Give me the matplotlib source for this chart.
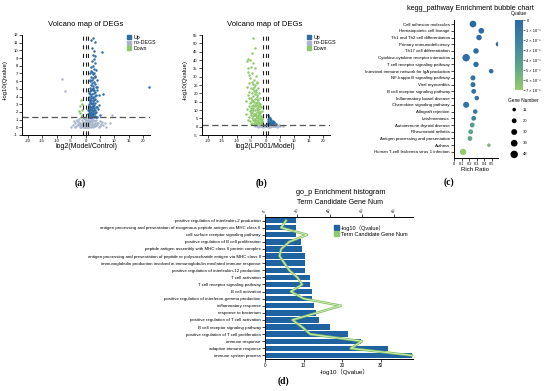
import numpy as np
import matplotlib
matplotlib.use('Agg')
import matplotlib.pyplot as plt
from matplotlib.colors import LinearSegmentedColormap
from matplotlib.patches import Patch

plt.rcParams['font.family'] = ['Liberation Sans', 'DejaVu Sans', 'Noto Sans CJK SC']
plt.rcParams['lines.scale_dashes'] = False
plt.rcParams['axes.unicode_minus'] = False

UP = '#2f6da6'
NODEG = '#a8b6cc'
DOWN = '#8dc96b'
BAR = '#1f62a2'

##### volcano (a): Model vs Control #####
up_a = [(2.5, 11.6), (2.0, 11.3), (3.1, 11.1), (2.2, 10.3), (3.0, 9.9), (5.6, 9.8), (2.6, 9.4),
        (2.8, 8.9), (2.1, 8.6), (3.3, 8.3), (2.4, 8.0), (1.8, 7.8), (2.9, 7.6), (3.5, 7.4),
        (2.2, 7.2), (1.6, 7.0), (2.7, 6.9), (3.1, 6.7), (2.0, 6.5), (2.4, 6.4), (3.8, 6.2),
        (1.5, 6.0), (2.9, 5.9), (2.3, 5.8), (3.2, 5.6), (1.9, 5.5), (2.6, 5.4), (4.1, 5.2),
        (1.4, 5.1), (2.1, 5.0), (3.0, 4.9), (2.5, 4.8), (1.7, 4.7), (3.4, 4.6), (2.8, 4.5),
        (1.3, 4.4), (2.2, 4.3), (3.6, 4.2), (1.9, 4.1), (2.7, 4.0), (4.5, 4.2), (1.2, 3.9),
        (2.4, 3.8), (3.1, 3.7), (1.6, 3.6), (2.0, 3.5), (2.9, 3.5), (3.9, 3.4), (1.4, 3.3),
        (2.5, 3.2), (3.3, 3.2), (1.8, 3.1), (1.1, 3.0), (2.2, 3.0), (3.0, 2.9), (4.8, 2.9),
        (1.5, 2.8), (2.7, 2.8), (1.9, 2.7), (3.5, 2.6), (1.2, 2.6), (2.3, 2.5), (2.8, 2.5),
        (1.6, 2.4), (4.2, 2.4), (1.0, 2.3), (2.1, 2.3), (3.2, 2.2), (1.7, 2.2), (2.6, 2.1),
        (1.3, 2.1), (3.7, 2.0), (2.0, 2.0), (1.1, 1.9), (2.9, 1.9), (1.5, 1.8), (2.4, 1.8),
        (3.4, 1.8), (1.8, 1.7), (1.0, 1.7), (2.2, 1.7), (5.0, 1.6), (1.4, 1.6), (2.7, 1.6),
        (1.2, 1.5), (3.1, 1.5), (1.9, 1.5), (2.5, 1.5), (1.6, 1.4), (4.0, 1.4), (1.1, 1.4),
        (2.0, 1.4), (3.6, 1.4), (1.3, 1.35), (2.8, 1.35), (1.7, 1.35), (2.3, 1.35),
        (6.2, 4.3), (22.0, 5.3), (3.2, 9.3), (2.3, 6.1), (1.8, 4.9), (2.6, 3.4), (3.8, 4.8),
        (1.9, 7.3), (2.8, 7.1), (3.4, 6.6), (1.7, 6.2), (2.5, 5.1), (3.6, 5.3), (1.5, 4.3),
        (3.1, 4.1), (2.0, 3.8), (1.3, 3.5), (2.6, 2.6), (3.9, 2.7), (1.4, 2.4), (2.9, 2.3)]
nodeg_a = [(-4.5, 0.3), (-3.8, 0.5), (-3.2, 0.2), (-2.9, 0.8), (-2.5, 0.4), (-2.2, 1.1), (-2.0, 0.1),
           (-1.8, 0.6), (-1.5, 0.3), (-1.3, 0.9), (-1.1, 0.2), (-0.9, 0.5), (-0.7, 1.2), (-0.5, 0.1),
           (-0.3, 0.7), (-0.1, 0.3), (0.1, 0.9), (0.3, 0.2), (0.5, 0.6), (0.7, 0.1), (0.9, 1.0),
           (1.1, 0.4), (1.3, 0.8), (1.5, 0.2), (1.7, 0.5), (1.9, 1.1), (2.1, 0.3), (2.3, 0.7),
           (2.5, 0.1), (2.7, 0.9), (2.9, 0.4), (3.1, 0.6), (3.4, 0.2), (3.7, 1.0), (4.0, 0.3),
           (4.4, 0.5), (4.9, 0.2), (5.5, 0.4), (6.2, 0.3), (7.0, 0.1), (8.5, 0.5), (9.0, 1.6),
           (-8.0, 6.3), (-7.0, 4.7), (-0.8, 0.0), (0.2, 0.05), (1.0, 0.15), (-1.6, 0.05), (2.0, 0.0),
           (0.6, 0.35), (-0.4, 0.45), (1.4, 0.55), (-2.7, 0.25), (3.0, 0.15), (0.0, 0.6),
           (-1.0, 0.75), (1.8, 0.85), (-0.2, 1.05), (0.8, 1.2), (-5.2, 0.1), (5.0, 0.8),
           (-3.5, 0.05), (-2.4, 0.65), (-1.9, 0.35), (-1.2, 0.45), (-0.6, 0.25), (0.4, 0.75),
           (1.2, 0.05), (1.6, 0.95), (2.2, 0.45), (2.6, 0.3), (3.3, 0.8), (3.9, 0.55),
           (4.6, 0.1), (5.8, 0.7), (6.8, 0.5), (-4.0, 0.8), (-3.0, 1.0), (0.5, 0.1),
           (1.1, 0.7), (2.4, 1.0), (-0.1, 0.0), (0.9, 0.3), (-1.4, 0.15), (3.6, 0.35)]
down_a = [(-1.5, 3.5), (-2.0, 2.8), (-1.3, 2.3), (-1.8, 1.9), (-1.1, 1.6), (-2.4, 2.1),
          (-1.6, 1.4), (-1.2, 3.0)]

##### volcano (b): LP001 vs Model #####
up_b = [(0.8, 7.2), (1.2, 6.1), (1.6, 5.4), (1.0, 4.8), (2.0, 4.3), (1.4, 3.9), (2.6, 3.5),
        (0.9, 3.2), (1.8, 2.9), (1.1, 2.6), (2.3, 2.4), (1.5, 2.2), (3.0, 2.0), (0.7, 1.9),
        (1.9, 1.7), (1.2, 1.6), (2.7, 1.5), (1.6, 1.4), (0.9, 1.4), (2.1, 1.35), (3.6, 1.5),
        (1.3, 2.0), (2.4, 3.0), (0.8, 2.3), (1.7, 4.6), (2.2, 2.1), (1.0, 1.8), (2.9, 2.7)]
nodeg_b = [(-3.5, 0.4), (-2.8, 0.8), (-2.2, 0.2), (-1.7, 1.1), (-1.3, 0.5), (-0.9, 0.1), (-0.6, 0.9),
           (-0.3, 0.3), (0.0, 0.7), (0.3, 0.2), (0.6, 1.0), (0.9, 0.4), (1.2, 0.8), (1.5, 0.1),
           (1.8, 0.6), (2.1, 1.2), (2.4, 0.3), (2.8, 0.7), (3.2, 0.2), (3.7, 0.9), (4.3, 0.4),
           (5.0, 0.6), (6.0, 0.3), (-0.1, 1.1), (0.4, 0.5), (1.0, 0.0), (-1.0, 0.6), (1.6, 0.9),
           (2.2, 0.5), (-2.0, 0.5), (-2.5, 0.1), (-1.5, 0.3), (-0.5, 0.5), (0.2, 0.9),
           (0.8, 0.2), (1.3, 0.4), (2.6, 1.0), (3.4, 0.5), (4.0, 0.1), (4.8, 0.9), (-3.0, 0.6)]
down_b = [(-4.2, 53.0), (-3.6, 47.0), (-4.8, 44.0), (-6.0, 40.5), (-6.5, 39.5), (-5.5, 40.0),
          (-4.5, 38.0), (-5.0, 36.0), (-3.8, 35.0), (-6.2, 33.0), (-4.6, 32.0), (-3.2, 30.5),
          (-5.3, 29.0), (-4.0, 28.0), (-2.8, 27.0), (-5.8, 26.5), (-4.4, 25.5), (-3.5, 25.0),
          (-6.4, 24.0), (-5.0, 23.5), (-2.6, 23.0), (-4.2, 22.5), (-3.3, 22.0), (-5.6, 21.0),
          (-4.8, 20.5), (-2.3, 20.0), (-3.8, 19.5), (-6.0, 19.0), (-4.4, 18.5), (-3.0, 18.0),
          (-5.2, 17.5), (-2.0, 17.0), (-3.6, 16.5), (-4.7, 16.0), (-6.6, 15.5), (-2.8, 15.0),
          (-4.0, 14.7), (-5.5, 14.3), (-3.3, 14.0), (-1.8, 13.5), (-4.5, 13.2), (-2.5, 12.8),
          (-5.9, 12.5), (-3.8, 12.2), (-1.6, 11.8), (-4.9, 11.5), (-3.0, 11.2), (-2.2, 10.8),
          (-6.3, 10.5), (-4.2, 10.2), (-3.5, 9.8), (-1.4, 9.5), (-5.3, 9.2), (-2.7, 9.0),
          (-4.6, 8.7), (-3.2, 8.4), (-1.9, 8.1), (-6.8, 7.8), (-4.0, 7.6), (-2.4, 7.3),
          (-5.1, 7.0), (-3.6, 6.8), (-1.5, 6.5), (-4.4, 6.3), (-2.9, 6.0), (-5.7, 5.8),
          (-3.3, 5.5), (-2.0, 5.3), (-4.8, 5.0), (-1.3, 4.8), (-3.9, 4.6), (-2.6, 4.3),
          (-6.1, 4.1), (-4.2, 3.9), (-1.7, 3.7), (-3.0, 3.5), (-5.4, 3.3), (-2.3, 3.1),
          (-3.7, 2.9), (-1.2, 2.7), (-4.6, 2.5), (-2.8, 2.3), (-1.9, 2.1), (-3.4, 1.9),
          (-5.0, 1.8), (-2.1, 1.6), (-1.4, 1.5), (-4.1, 1.4), (-3.1, 16.8), (-4.1, 21.2),
          (-2.4, 14.2), (-3.7, 13.1), (-5.0, 10.0), (-2.0, 9.1), (-3.9, 7.4), (-2.5, 6.6),
          (-1.6, 5.6), (-3.5, 4.0), (-4.8, 12.4), (-2.9, 19.2), (-3.9, 24.0), (-4.8, 27.0),
          (-5.6, 31.0), (-3.0, 26.0), (-2.2, 7.8), (-1.8, 4.4), (-2.6, 11.6), (-4.3, 15.2),
          (-3.4, 20.8), (-5.2, 14.8), (-1.1, 3.2), (-2.0, 12.2), (-6.2, 35.5),
          (-3.1, 10.3), (-4.3, 11.0), (-2.3, 8.6), (-3.4, 7.0), (-4.9, 8.2), (-2.7, 5.0),
          (-1.5, 2.3), (-3.8, 3.2), (-2.5, 2.0), (-3.2, 13.3), (-5.6, 17.0), (-2.7, 16.0)]

##### kegg bubble (c) #####
kegg_terms = ['Cell adhesion molecules', 'Hematopoietic cell lineage',
              'Th1 and Th2 cell differentiation', 'Primary immunodeficiency',
              'Th17 cell differentiation', 'Cytokine-cytokine receptor interaction',
              'T cell receptor signaling pathway', 'Intestinal immune network for IgA production',
              'NF-kappa B signaling pathway', 'Viral myocarditis',
              'B cell receptor signaling pathway', 'Inflammatory bowel disease',
              'Chemokine signaling pathway', 'Allograft rejection', 'Leishmaniasis',
              'Autoimmune thyroid disease', 'Rheumatoid arthritis',
              'Antigen processing and presentation', 'Asthma',
              'Human T-cell leukemia virus 1 infection']
rich_ratio = [0.25, 0.36, 0.33, 0.58, 0.29, 0.16, 0.29, 0.49, 0.25, 0.25,
              0.26, 0.30, 0.16, 0.28, 0.26, 0.24, 0.22, 0.21, 0.46, 0.12]
gene_num = [39, 28, 26, 18, 26, 48, 25, 18, 22, 22,
            20, 18, 32, 18, 20, 20, 20, 20, 11, 35]
qvalue = [0.0, 0.1e-6, 0.1e-6, 0.2e-6, 0.2e-6, 0.3e-6, 0.3e-6, 0.4e-6, 0.5e-6, 0.5e-6,
          0.6e-6, 0.7e-6, 0.8e-6, 1.2e-6, 2.0e-6, 4.0e-6, 4.5e-6, 4.8e-6, 6.0e-6, 6.8e-6]
size_levels = [11, 20, 30, 39, 48]
q_ticks = [0, 1e-6, 2e-6, 3e-6, 4e-6, 5e-6, 6e-6, 7e-6]
q_labels = ['0', '1 × 10⁻⁶', '2 × 10⁻⁶', '3 × 10⁻⁶', '4 × 10⁻⁶', '5 × 10⁻⁶',
            '6 × 10⁻⁶', '7 × 10⁻⁶']

##### go histogram (d) #####
go_terms = ['positive regulation of interleukin-2 production',
            'antigen processing and presentation of exogenous peptide antigen via MHC class II',
            'cell surface receptor signaling pathway',
            'positive regulation of B cell proliferation',
            'peptide antigen assembly with MHC class II protein complex',
            'antigen processing and presentation of peptide or polysaccharide antigen via MHC class II',
            'immunoglobulin production involved in immunoglobulin mediated immune response',
            'positive regulation of interleukin-12 production',
            'T cell activation', 'T cell receptor signaling pathway', 'B cell activation',
            'positive regulation of interferon-gamma production', 'inflammatory response',
            'response to bacterium', 'positive regulation of T cell activation',
            'B cell receptor signaling pathway', 'positive regulation of T cell proliferation',
            'immune response', 'adaptive immune response', 'immune system process']
go_qlog = [8.1, 8.1, 8.1, 9.4, 9.7, 10.4, 10.4, 10.4, 11.7, 11.8,
           12.1, 12.3, 12.6, 13.2, 13.9, 16.9, 21.6, 25.0, 31.8, 38.1]
go_gene = [13, 10, 26, 15, 10, 9, 12, 15, 20, 23,
           16, 24, 47, 32, 17, 23, 28, 60, 53, 91]


def box(l, t, r, b):
    return [l / 550, 1 - b / 391, (r - l) / 550, (b - t) / 391]


def ftext(px, py, s, **kw):
    fig.text(px / 550, 1 - py / 391, s, ha='center', va='center', **kw)


def style_axes(ax):
    for side in ('top', 'right'):
        ax.spines[side].set_visible(False)
    for side in ('left', 'bottom'):
        ax.spines[side].set_linewidth(0.7)
    ax.tick_params(length=2, width=0.5, pad=1, labelsize=3)


def volcano(rect, up, nodeg, down, ylim, ystep):
    ax = fig.add_axes(rect)
    for pts, c in ((nodeg, NODEG), (up, UP), (down, DOWN)):
        x, y = np.array(pts).T
        ax.scatter(x, y, s=3.2, c=c, lw=0)
    for xv in (-1, 0, 1):
        ax.axvline(xv, color='#222222', lw=0.8, dashes=(3, 3.2))
    ax.axhline(1.3, color='#555555', lw=0.9, dashes=(4.5, 2.5))
    ax.set_xlim(-22, 22.3)
    ax.set_ylim(*ylim)
    ax.set_xticks(np.arange(-20, 21, 5))
    ax.set_yticks(np.arange(ylim[0], ylim[1] + 0.1, ystep))
    style_axes(ax)
    handles = [Patch(color=UP), Patch(color=NODEG), Patch(color=DOWN)]
    ax.legend(handles, ['Up', 'no-DEGS', 'Down'], loc='upper left',
              bbox_to_anchor=(0.8, 1.03), frameon=False, fontsize=3.8,
              handlelength=0.8, handleheight=0.8, handletextpad=0.5,
              labelspacing=0.15, borderpad=0)
    return ax


fig = plt.figure(figsize=(5.5, 3.91), dpi=100)

# (a)
volcano(box(22, 35, 150, 135), up_a, nodeg_a, down_a, (-1, 12), 1)
ftext(86, 25, 'Volcano map of DEGs', fontsize=5.5)
ftext(87, 147, 'log2(Model/Control)', fontsize=5)
ftext(5, 80, '-log10(Qvalue)', fontsize=4.3, rotation=90)
ftext(80, 183, '(a)', fontsize=7, family='Liberation Serif', weight='bold')

# (b)
volcano(box(202, 35, 330, 135), up_b, nodeg_b, down_b, (-5, 55), 5)
ftext(265, 25, 'Volcano map of DEGs', fontsize=5.5)
ftext(265, 147, 'log2(LP001/Model)', fontsize=5)
ftext(185, 80, '-log10(Qvalue)', fontsize=4.3, rotation=90)
ftext(262, 183, '(b)', fontsize=7, family='Liberation Serif', weight='bold')

# (c)
cmap = LinearSegmentedColormap.from_list('qv', ['#2c6aa6', '#3f86a0', '#5da58a', '#95cd69'])
axc = fig.add_axes(box(454, 20, 498, 158))
ypos = np.arange(len(kegg_terms))
sc = axc.scatter(rich_ratio, ypos, s=np.array(gene_num) * 0.6, c=qvalue, cmap=cmap,
                 vmin=0, vmax=7e-6, lw=0, zorder=3)
axc.set_ylim(len(kegg_terms) - 0.1, -0.6)
axc.set_xlim(0, 0.58)
axc.set_yticks(ypos, kegg_terms)
axc.set_xticks([0, 0.1, 0.2, 0.3, 0.4, 0.5], ['0', '0.1', '0.2', '0.3', '0.4', '0.5'])
style_axes(axc)
axc.tick_params(axis='y', labelsize=3.2)
axc.tick_params(axis='x', labelsize=2.8)
ftext(470, 8, 'kegg_pathway Enrichment bubble chart', fontsize=5.2)
ftext(475, 170, 'Rich Ratio', fontsize=4.3)
ftext(449, 182, '(c)', fontsize=7, family='Liberation Serif', weight='bold')

cax = fig.add_axes(box(515, 20, 523, 90))
cb = fig.colorbar(sc, cax=cax)
cb.set_ticks(q_ticks, labels=q_labels)
cax.invert_yaxis()
cb.outline.set_visible(False)
cax.tick_params(length=1.5, width=0.4, pad=1, labelsize=2.8)
ftext(519, 13, 'Qvalue', fontsize=3.6)

ftext(523, 100, 'Gene Number', fontsize=3.4)
axs = fig.add_axes(box(505, 104, 545, 160))
axs.axis('off')
axs.set_xlim(0, 1)
axs.set_ylim(len(size_levels) - 0.5, -0.5)
axs.scatter([0.23] * len(size_levels), range(len(size_levels)),
            s=np.array(size_levels) * 0.6, c='black', lw=0)
for i, v in enumerate(size_levels):
    axs.text(0.45, i, str(v), fontsize=3, va='center')

# (d)
axd = fig.add_axes(box(265, 217, 413, 359))
yd = np.arange(len(go_terms))
axd.barh(yd, go_qlog, height=0.76, color=BAR, zorder=2)
axd.set_ylim(len(go_terms) - 0.5, -0.5)
axd.set_xlim(0, 38.4)
axd.set_xticks([0, 10, 20, 30])
axd.set_yticks(yd, go_terms)
style_axes(axd)
axd.tick_params(axis='y', labelsize=3.2)
axd.tick_params(axis='x', labelsize=3.3)

axt = axd.twiny()
axt.plot(go_gene, yd, color='#86c264', lw=1.8, zorder=3)
axt.plot(go_gene, yd, color='#e4f4d4', lw=0.5, zorder=4)
axt.set_xlim(0, 91.6)
axt.set_xticks([0, 20, 40, 60, 80])
for side in ('left', 'right', 'bottom'):
    axt.spines[side].set_visible(False)
axt.spines['top'].set_linewidth(0.7)
axt.tick_params(length=2, width=0.5, pad=0.5, labelsize=3)
for lab in axt.get_xticklabels():
    lab.set_rotation(60)

fig.legend([Patch(color=BAR), Patch(color=DOWN)],
           ['-log10（Qvalue）', 'Term Candidate Gene Num'],
           loc='upper left', bbox_to_anchor=(331 / 550, 1 - 222 / 391), frameon=False,
           fontsize=4, handlelength=0.9, handleheight=0.9, handletextpad=0.4,
           labelspacing=0.15, borderpad=0)

ftext(341, 193, 'go_p Enrichment histogram', fontsize=5.3)
ftext(340, 202, 'Term Candidate Gene Num', fontsize=5)
ftext(345, 372, '-log10（Qvalue）', fontsize=4.5)
ftext(283, 381, '(d)', fontsize=7, family='Liberation Serif', weight='bold')

fig.savefig('out.png', dpi=100)
